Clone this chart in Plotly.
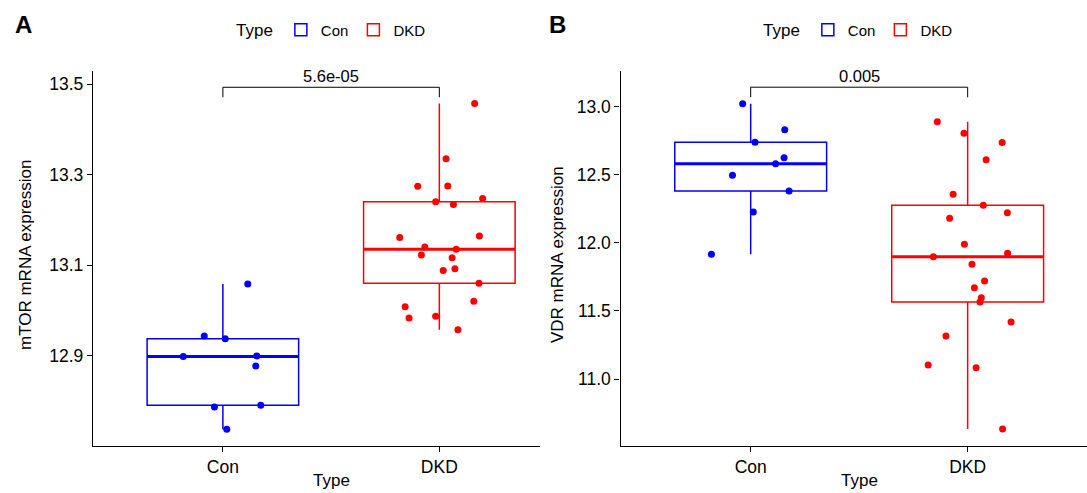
import numpy as np
import plotly.graph_objects as go

# ---------------- data ----------------
categories = ["Con", "DKD"]
cat_pos = [1, 2]

mtor_con = [13.058, 12.943, 12.937, 12.898, 12.899, 12.877, 12.786, 12.790, 12.737]
mtor_con_jit = [0.115, -0.086, 0.011, -0.183, 0.157, 0.152, -0.039, 0.175, 0.018]
mtor_dkd = [13.457, 13.335, 13.274, 13.275, 13.247, 13.240, 13.234, 13.161, 13.164, 13.140,
            13.135, 13.122, 13.116, 13.088, 13.092, 13.060, 13.008, 13.020, 12.983, 12.987, 12.957]
mtor_dkd_jit = [0.163, 0.031, -0.100, 0.039, 0.200, -0.017, 0.065, -0.183, 0.185, -0.067,
                0.078, -0.083, 0.059, 0.018, 0.072, 0.183, -0.158, 0.159, -0.140, -0.017, 0.086]

vdr_con = [13.022, 12.831, 12.739, 12.625, 12.581, 12.496, 12.381, 12.227, 11.916]
vdr_con_jit = [-0.037, 0.157, 0.020, 0.154, 0.115, -0.084, 0.177, 0.012, -0.181]
vdr_dkd = [12.890, 12.805, 12.736, 12.611, 12.357, 12.276, 12.221, 12.180, 11.989, 11.898,
           11.923, 11.842, 11.720, 11.671, 11.597, 11.566, 11.419, 11.316, 11.103, 11.083, 10.633]
vdr_dkd_jit = [-0.140, -0.017, 0.159, 0.085, -0.067, 0.072, 0.183, -0.083, -0.015, -0.158,
               0.184, 0.020, 0.078, 0.031, 0.063, 0.057, 0.200, -0.100, -0.182, 0.039, 0.161]

pval_a = "5.6e-05"
pval_b = "0.005"
bracket_a = (13.471, 13.493)   # (leg bottom, bar)
bracket_b = (13.069, 13.143)

ticks_a = [12.9, 13.1, 13.3, 13.5]
ticks_b = [11.0, 11.5, 12.0, 12.5, 13.0]

colors = {"Con": "#0000FF", "DKD": "#FF0000"}
FONT = "Liberation Sans, Arial, sans-serif"
BOXW = 0.7

fig = go.Figure()


def box_stats(v):
    v = np.asarray(v)
    q1, med, q3 = np.percentile(v, [25, 50, 75])
    iqr = q3 - q1
    lo = v[v >= q1 - 1.5 * iqr].min()
    hi = v[v <= q3 + 1.5 * iqr].max()
    return q1, med, q3, lo, hi


def add_panel(groups, xa, ya, legend_name):
    for name, pos, vals, jit in groups:
        q1, med, q3, lo, hi = box_stats(vals)
        col = colors[name]
        fig.add_trace(go.Box(
            x=[pos], q1=[q1], median=[med], q3=[q3], lowerfence=[lo], upperfence=[hi],
            width=BOXW, whiskerwidth=0, boxpoints=False, name=name,
            line=dict(color=col, width=1.5), fillcolor="rgba(0,0,0,0)",
            xaxis=xa, yaxis=ya, legend=legend_name, showlegend=True, hoverinfo="skip"))
        fig.add_trace(go.Scatter(
            x=[pos - BOXW / 2, pos + BOXW / 2], y=[med, med], mode="lines",
            line=dict(color=col, width=3), xaxis=xa, yaxis=ya, showlegend=False,
            hoverinfo="skip"))
        fig.add_trace(go.Scatter(
            x=[pos + j for j in jit], y=vals, mode="markers",
            marker=dict(color=col, size=7, line=dict(width=0)),
            xaxis=xa, yaxis=ya, showlegend=False, hoverinfo="skip"))


add_panel([("Con", 1, mtor_con, mtor_con_jit), ("DKD", 2, mtor_dkd, mtor_dkd_jit)], "x", "y", "legend")
add_panel([("Con", 1, vdr_con, vdr_con_jit), ("DKD", 2, vdr_dkd, vdr_dkd_jit)], "x2", "y2", "legend2")

# significance brackets
for xa, ya, br in [("x", "y", bracket_a), ("x2", "y2", bracket_b)]:
    fig.add_trace(go.Scatter(
        x=[cat_pos[0], cat_pos[0], cat_pos[1], cat_pos[1]], y=[br[0], br[1], br[1], br[0]],
        mode="lines", line=dict(color="black", width=1), xaxis=xa, yaxis=ya,
        showlegend=False, hoverinfo="skip"))

W, H = 1087, 493
ydom = [1 - 446 / H, 1 - 71 / H]
axis_common = dict(showgrid=False, zeroline=False, showline=True, linecolor="black", linewidth=1.3,
                   ticks="outside", ticklen=5, tickwidth=1.2, tickcolor="black",
                   tickfont=dict(family=FONT, size=17.5, color="black"))

fig.update_layout(
    width=W, height=H, margin=dict(l=0, r=0, t=0, b=0),
    paper_bgcolor="white", plot_bgcolor="white",
    font=dict(family=FONT, color="black"),
    xaxis=dict(domain=[93 / W, 540 / W], range=[0.4, 2.465], tickvals=cat_pos, ticktext=categories,
               anchor="y", **axis_common),
    yaxis=dict(domain=ydom, range=[12.70, 13.529], tickvals=ticks_a, tickformat=".1f",
               anchor="x", **axis_common),
    xaxis2=dict(domain=[620.5 / W, 1.0], range=[0.4, 2.55], tickvals=cat_pos, ticktext=categories,
                anchor="y2", **axis_common),
    yaxis2=dict(domain=ydom, range=[10.508, 13.262], tickvals=ticks_b, tickformat=".1f",
                anchor="x2", **axis_common),
    legend=dict(title=dict(text="Type", side="left", font=dict(size=17)), orientation="h",
                x=234 / W, xanchor="left", y=1 - 30 / H, yanchor="middle",
                font=dict(family=FONT, size=15), itemwidth=30, bgcolor="rgba(0,0,0,0)"),
    legend2=dict(title=dict(text="Type", side="left", font=dict(size=17)), orientation="h",
                 x=761 / W, xanchor="left", y=1 - 30 / H, yanchor="middle",
                 font=dict(family=FONT, size=15), itemwidth=30, bgcolor="rgba(0,0,0,0)"),
)

ann = []
# panel letters
ann.append(dict(text="<b>A</b>", x=13 / W, y=1 - 24 / H, xref="paper", yref="paper",
                xanchor="left", yanchor="middle", showarrow=False, font=dict(size=24, family=FONT)))
ann.append(dict(text="<b>B</b>", x=547 / W, y=1 - 24 / H, xref="paper", yref="paper",
                xanchor="left", yanchor="middle", showarrow=False, font=dict(size=24, family=FONT)))
# axis titles
ann.append(dict(text="mTOR mRNA expression", x=25 / W, y=1 - 255 / H, xref="paper", yref="paper",
                xanchor="center", yanchor="middle",
                textangle=-90, showarrow=False, font=dict(size=17, family=FONT)))
ann.append(dict(text="VDR mRNA expression", x=557 / W, y=1 - 255 / H, xref="paper", yref="paper",
                xanchor="center", yanchor="middle",
                textangle=-90, showarrow=False, font=dict(size=17, family=FONT)))
ann.append(dict(text="Type", x=331 / W, y=1 - 492 / H, xref="paper", yref="paper",
                xanchor="center", yanchor="bottom",
                showarrow=False, font=dict(size=17, family=FONT)))
ann.append(dict(text="Type", x=859 / W, y=1 - 492 / H, xref="paper", yref="paper",
                xanchor="center", yanchor="bottom",
                showarrow=False, font=dict(size=17, family=FONT)))
# p-values
ann.append(dict(text=pval_a, x=1.5, y=bracket_a[1], xref="x", yref="y", yanchor="bottom",
                yshift=0, showarrow=False, font=dict(size=16.5, family=FONT)))
ann.append(dict(text=pval_b, x=1.5, y=bracket_b[1], xref="x2", yref="y2", yanchor="bottom",
                yshift=0, showarrow=False, font=dict(size=16.5, family=FONT)))
fig.update_layout(annotations=ann)

fig.write_html("out.html", config={"displayModeBar": False},
               post_script="document.body.style.margin='0';document.body.style.padding='0';"
                           "document.body.style.overflow='hidden';")
